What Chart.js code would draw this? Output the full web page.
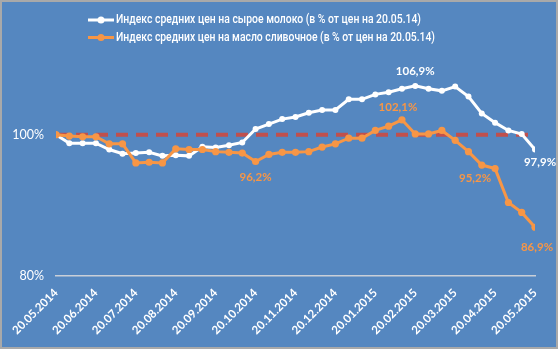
<!DOCTYPE html>
<html>
<head>
<meta charset="utf-8">
<script src="https://cdn.jsdelivr.net/npm/chart.js@4/dist/chart.umd.min.js"></script>
<style>
	html, body { margin: 0; padding: 0; background: #ffffff; }
	canvas { display: block; }
</style>
</head>
<body>
<canvas id="priceChart" width="558" height="349"></canvas>
<script>
// Месячные подписи оси X (каждая третья точка)
const monthLabels = [
	'20.05.2014', '20.06.2014', '20.07.2014', '20.08.2014', '20.09.2014', '20.10.2014',
	'20.11.2014', '20.12.2014', '20.01.2015', '20.02.2015', '20.03.2015', '20.04.2015', '20.05.2015'
];

const yTicks = [80, 100];

// Индекс цен на сырое молоко, %
const milkIndex = [
	100.0, 98.8, 98.8, 98.8, 97.9, 97.3, 97.4, 97.5, 97.0, 97.1,
	97.0, 98.3, 98.2, 98.5, 98.9, 100.8, 101.5, 102.2, 102.5, 103.1,
	103.5, 103.5, 105.0, 105.0, 105.7, 106.0, 106.5, 106.9, 106.5, 106.2,
	106.8, 105.4, 103.0, 101.7, 100.6, 100.1, 97.9
];

// Индекс цен на масло сливочное, %
const butterIndex = [
	100.0, 99.8, 99.7, 99.7, 98.7, 98.7, 96.0, 96.1, 96.0, 98.0,
	97.9, 97.9, 97.6, 97.5, 97.4, 96.2, 97.2, 97.5, 97.5, 97.6,
	98.25, 98.7, 99.5, 99.5, 100.6, 101.2, 102.1, 100.1, 100.1, 100.6,
	99.2, 97.6, 95.7, 95.2, 90.4, 89.0, 86.9
];

const baseLevel = 100;

const toPoints = arr => arr.map((v, i) => ({ x: i, y: v }));

const BG = '#5587c0';
const WHITE = '#ffffff';
const ORANGE = '#f79646';
const FONT = 'Lato, "Open Sans", sans-serif';
const LEGEND_FONT = '500 12px Roboto, "Noto Sans", sans-serif';

// Подписи данных: [набор, индекс, текст, dx, dy]
const dataLabels = [
	[0, 27, '106,9%', 0, -15],
	[0, 36, '97,9%', 5, 13],
	[1, 15, '96,2%', 0, 16],
	[1, 26, '102,1%', -4, -13],
	[1, 33, '95,2%', -20, 10],
	[1, 36, '86,9%', 2, 20]
];

const backgroundPlugin = {
	id: 'bg',
	beforeDraw(chart) {
		const ctx = chart.ctx;
		ctx.save();
		ctx.fillStyle = BG;
		ctx.fillRect(0, 0, chart.width, chart.height);
		ctx.strokeStyle = '#a9a9a9';
		ctx.lineWidth = 2;
		ctx.strokeRect(1, 1, chart.width - 2, chart.height - 2);
		ctx.restore();
	}
};

// Легенда: ширина строк подогнана под оригинал (узкий шрифт)
const legendWidths = [305, 319];

const legendPlugin = {
	id: 'customLegend',
	afterDraw(chart) {
		const ctx = chart.ctx;
		ctx.save();
		ctx.font = LEGEND_FONT;
		ctx.textBaseline = 'middle';
		[0, 1].forEach((di, row) => {
			const ds = chart.data.datasets[di];
			const y = 20 + row * 17.5;
			ctx.strokeStyle = ds.borderColor;
			ctx.lineWidth = 3;
			ctx.beginPath();
			ctx.moveTo(88, y);
			ctx.lineTo(114, y);
			ctx.stroke();
			ctx.fillStyle = ds.borderColor;
			ctx.beginPath();
			ctx.arc(101, y, 3.5, 0, Math.PI * 2);
			ctx.fill();
			ctx.fillStyle = WHITE;
			ctx.fillText(ds.label, 116, y, legendWidths[row]);
		});
		ctx.restore();
	}
};

const labelPlugin = {
	id: 'dataLabels',
	afterDatasetsDraw(chart) {
		const ctx = chart.ctx;
		ctx.save();
		ctx.font = 'bold 11.5px ' + FONT;
		ctx.textAlign = 'center';
		ctx.textBaseline = 'middle';
		dataLabels.forEach(([di, idx, text, dx, dy]) => {
			const pt = chart.getDatasetMeta(di).data[idx];
			ctx.fillStyle = chart.data.datasets[di].borderColor;
			ctx.fillText(text, pt.x + dx, pt.y + dy);
		});
		ctx.restore();
	}
};

const ctx = document.getElementById('priceChart').getContext('2d');
const priceChart = new Chart(ctx, {
	type: 'line',
	data: {
		datasets: [
			{
				label: 'Индекс средних цен на сырое молоко (в % от цен на 20.05.14)',
				data: toPoints(milkIndex),
				borderColor: WHITE,
				backgroundColor: WHITE,
				borderWidth: 3,
				pointRadius: 3,
				pointBorderWidth: 0,
				tension: 0,
				order: 2
			},
			{
				label: 'Индекс средних цен на масло сливочное (в % от цен на 20.05.14)',
				data: toPoints(butterIndex),
				borderColor: ORANGE,
				backgroundColor: ORANGE,
				borderWidth: 3,
				pointRadius: 3.6,
				pointBorderWidth: 0,
				tension: 0,
				order: 1
			},
			{
				label: '100%',
				data: milkIndex.map((_, i) => ({ x: i, y: baseLevel })),
				borderColor: '#c0504d',
				borderWidth: 4,
				borderDash: [12, 8],
				pointRadius: 0,
				fill: false,
				order: 3
			}
		]
	},
	options: {
		responsive: false,
		animation: false,
		devicePixelRatio: 1,
		layout: { padding: { top: 64, right: 23, bottom: 0, left: 0 } },
		plugins: {
			legend: { display: false },
			tooltip: { enabled: false }
		},
		scales: {
			x: {
				type: 'linear',
				min: 0,
				max: milkIndex.length - 1,
				afterBuildTicks: scale => {
					scale.ticks = monthLabels.map((_, k) => ({ value: k * 3 }));
				},
				afterFit: scale => { scale.height = 73; },
				ticks: {
					color: WHITE,
					font: { family: FONT, size: 11.5, weight: 'bold' },
					minRotation: 45,
					maxRotation: 45,
					padding: 10,
					callback: v => monthLabels[Math.round(v / 3)]
				},
				grid: { display: false, drawTicks: false },
				border: { display: true, color: '#c9cfd8', width: 1.5 }
			},
			y: {
				min: 80,
				max: 110,
				afterBuildTicks: scale => {
					scale.ticks = yTicks.map(v => ({ value: v }));
				},
				afterFit: scale => { scale.width = 56; },
				ticks: {
					color: WHITE,
					font: { family: FONT, size: 12.5 },
					padding: 12,
					callback: v => v + '%'
				},
				grid: { display: false, drawTicks: false },
				border: { display: false }
			}
		}
	},
	plugins: [backgroundPlugin, legendPlugin, labelPlugin]
});
</script>
</body>
</html>
